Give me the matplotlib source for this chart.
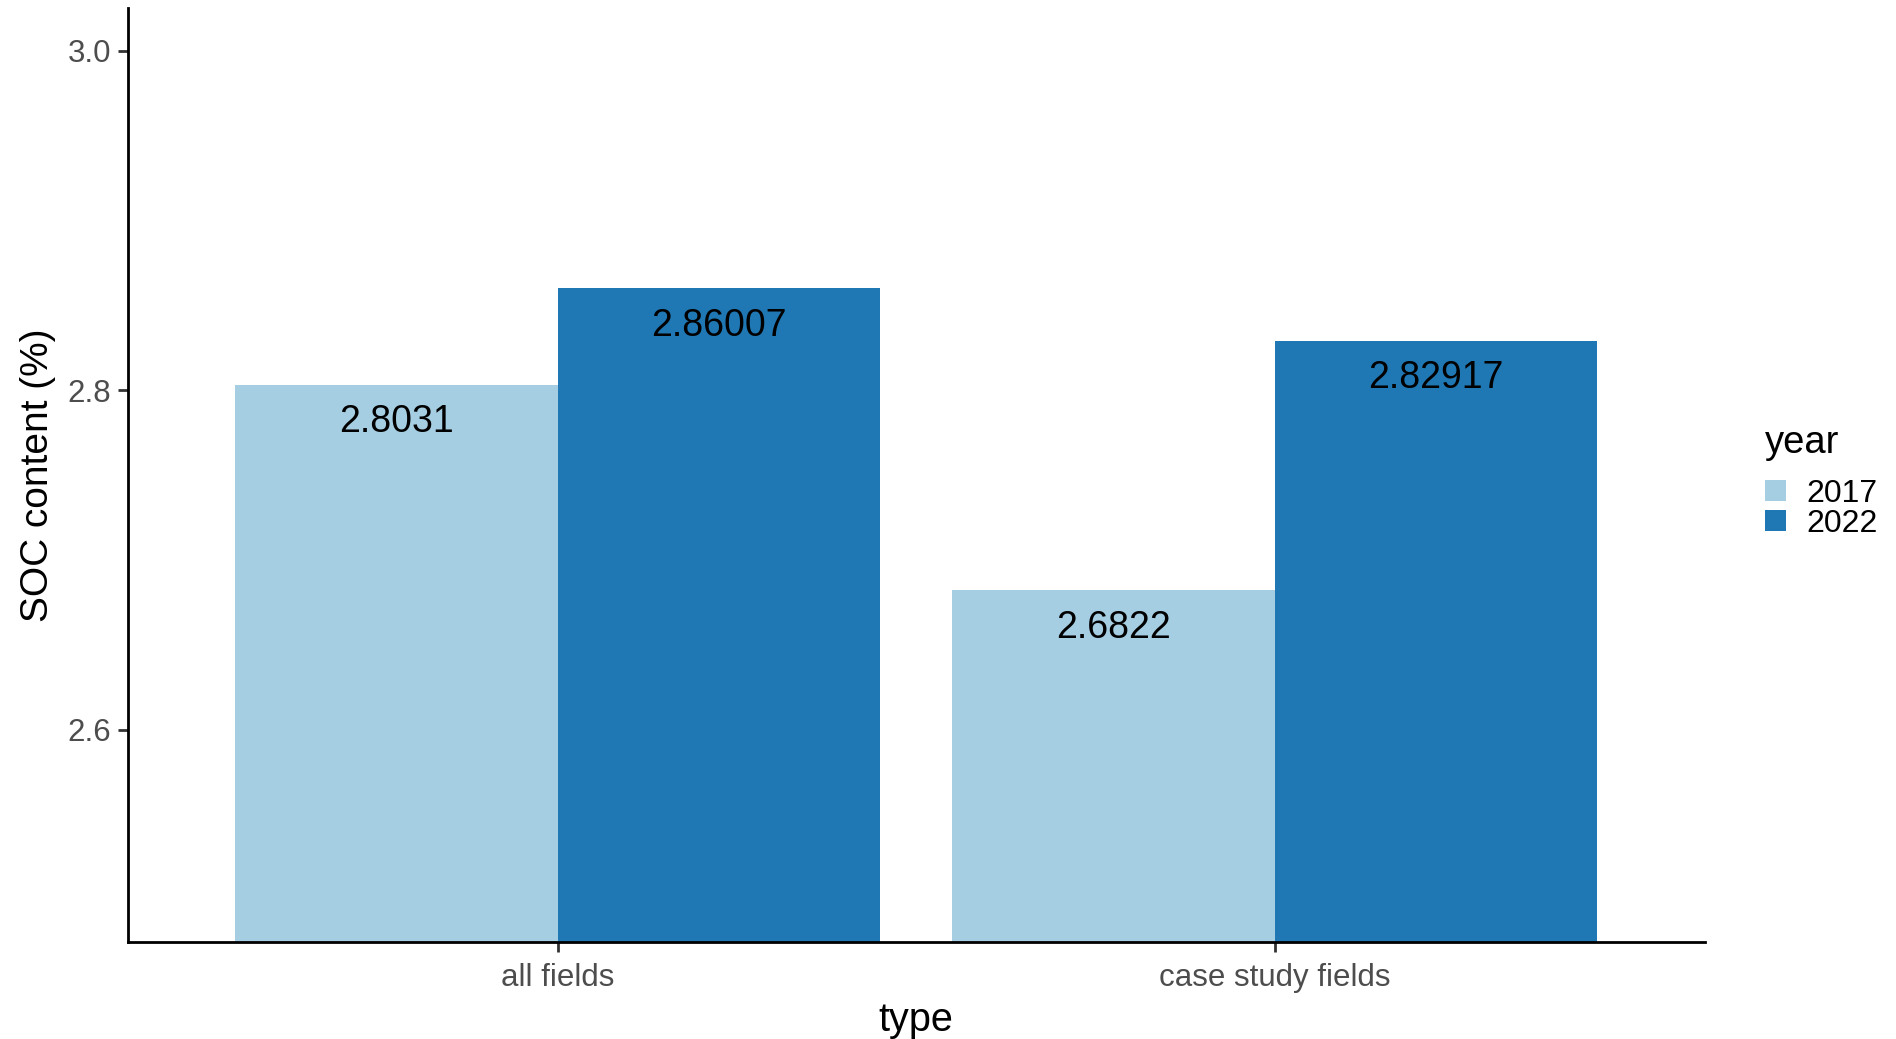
# SOC content by field type and year, grouped bars

import matplotlib.pyplot as plt
from matplotlib.patches import Patch

plt.rcParams['font.family'] = ['Liberation Sans', 'DejaVu Sans']

# data
types = ['all fields', 'case study fields']
years = ['2017', '2022']
soc_2017 = [2.8031, 2.6822]
soc_2022 = [2.86007, 2.82917]
colors = ['#A6CEE3', '#1F78B4']

fig = plt.figure(figsize=(18.96, 10.39), dpi=100)
ax = fig.add_axes([0.0675, 0.0934, 0.8315, 0.8986])

width = 0.45
pos = list(range(1, len(types) + 1))
for i, (vals, col) in enumerate(zip([soc_2017, soc_2022], colors)):
    xs = [p - width / 2 + i * width for p in pos]
    bars = ax.bar(xs, vals, width=width, color=col, linewidth=0)
    for b, v in zip(bars, vals):
        ax.annotate(f"{v:g}", (b.get_x() + b.get_width() / 2, v),
                    xytext=(0, -27), textcoords='offset points',
                    ha='center', va='center', fontsize=27, color='black')

ax.set_xlim(0.4, 2.6)
ax.set_ylim(2.475, 3.025)
ax.set_xticks(pos)
ax.set_xticklabels(types)
ax.set_yticks([2.6, 2.8, 3.0])
ax.set_yticklabels(['2.6', '2.8', '3.0'])

for s in ['top', 'right']:
    ax.spines[s].set_visible(False)
for s in ['left', 'bottom']:
    ax.spines[s].set_linewidth(2.0)
    ax.spines[s].set_color('black')
ax.tick_params(axis='both', length=7, width=2.0, color='#333333',
               labelsize=22.5, labelcolor='#4D4D4D')
ax.tick_params(axis='x', pad=8.5)
ax.tick_params(axis='y', pad=5)

ax.set_xlabel('type', fontsize=28.5, labelpad=5.5)
ax.set_ylabel('SOC content (%)', fontsize=28, labelpad=8.5)

# legend: title drawn separately so the gap to the keys matches
fig.text(0.931, 0.574, 'year', fontsize=27.5, ha='left', va='center')
handles = [Patch(facecolor=c, edgecolor='none') for c in colors]
leg = fig.legend(handles, years, loc='center left',
                 bbox_to_anchor=(0.931, 0.5105), frameon=False,
                 fontsize=23, handlelength=0.65, handleheight=0.65,
                 labelspacing=0.0, handletextpad=0.65, borderaxespad=0,
                 borderpad=0)

fig.savefig('out.png', dpi=100)
